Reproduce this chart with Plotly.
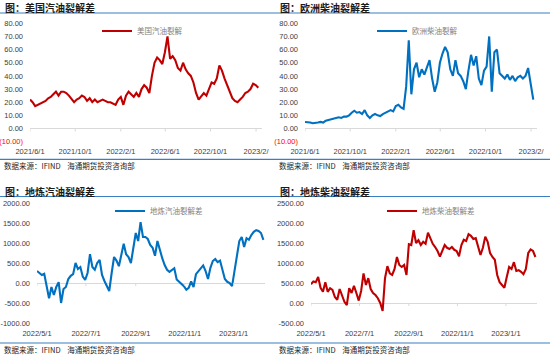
import pandas as pd
import plotly.graph_objects as go

# ---------------- data ----------------
us_gasoline = [22, 20, 17, 18, 19, 20, 21, 23, 24, 26,
               28, 25, 28, 28, 27, 25, 22, 20, 22, 23,
               25, 24, 21, 23, 20, 22, 20, 21, 22, 21,
               20, 20, 19, 18, 22, 24, 18, 25, 28, 26,
               24, 27, 24, 30, 33, 31, 27, 40, 50, 54,
               52, 49, 58, 70, 53, 55, 52, 46, 44, 50,
               45, 42, 40, 35, 27, 22, 25, 27, 25, 30,
               35, 34, 38, 48, 44, 38, 33, 27, 23, 21,
               20, 22, 24, 27, 28, 30, 34, 33, 31]
eu_diesel = [5, 5, 4.5, 4, 4, 4.5, 5, 4.5, 6, 6.5,
             7, 7.5, 8, 8.5, 8, 9, 9, 10, 12, 13.5,
             12, 12.5, 11, 14, 10, 8, 10, 11, 10, 9.5,
             11, 12, 13, 14, 13, 17, 18, 16, 15, 32,
             67, 26, 45, 50, 39, 45, 41, 47, 52, 38,
             28, 35, 50, 57, 62, 58, 45, 40, 52, 42,
             40, 36, 30, 44, 56, 48, 55, 38, 33, 44,
             47, 70, 28, 58, 60, 42, 40, 38, 41, 37,
             40, 36, 39, 40, 38, 40, 46, 35, 22]
local_gasoline = [300, 260, 200, 230, -90, -380, -100, -300, -100, 20,
                  -500, -150, -100, 100, 180, 220, 500, 350, 400, 160,
                  80, 250, 720, 400, 330, 500, 580, 200, 50, -100,
                  -200, 250, 650, 560, 420, 700, 980, 720, 650, 500,
                  900, 1250, 1050, 1520, 1150, 1150, 1100, 950, 880, 680,
                  1050, 800, 620, 450, 330, 280, 320, 370, 90, 30,
                  -20, -80, -170, -120, 40, -100, 220, 300, 350, 440,
                  300, 100, 380, 550, 600, 520, 560, 320, 100, 30,
                  0, -80, 300, 650, 1050, 1150, 900, 1120, 1080, 1200,
                  1280, 1320, 1300, 1250, 1080]
local_diesel = [470, 540, 520, 650, 380, 280, 520, 280, 370, 330,
                150, 80, 350, 200, 30, -50, 370, 250, 430, 250,
                60, 300, 740, 450, 620, 350, 250, 200, 120, 0,
                -200, 620, 920, 740, 700, 850, 1150, 950, 900, 950,
                700, 1470, 1450, 1820, 1500, 1570, 1450, 1530, 1480, 1760,
                1600, 1480, 1400, 1300, 1160, 1320, 1450, 1380, 1350, 1400,
                1330, 1300, 1170, 1450, 1580, 1550, 1720, 1680, 1600, 1620,
                1400, 1200, 1380, 1660, 1530, 1250, 1150, 1080, 700, 520,
                450, 380, 650, 900, 850, 1020, 800, 820, 780, 720,
                850, 1250, 1340, 1300, 1150]

dates_top = pd.date_range("2021-06-01", periods=len(us_gasoline), freq="7D")
dates_bot = pd.date_range("2022-05-01", periods=len(local_gasoline), freq="3D")

top_tickvals = ["2021-06-01", "2021-10-01", "2022-02-01", "2022-06-01", "2022-10-01", "2023-02-01"]
top_ticktext = ["2021/6/1", "2021/10/1", "2022/2/1", "2022/6/1", "2022/10/1", "2023/2/"]
bot_tickvals = ["2022-05-01", "2022-07-01", "2022-09-01", "2022-11-01", "2023-01-01"]
bot_ticktext = ["2022/5/1", "2022/7/1", "2022/9/1", "2022/11/1", "2023/1/1"]

top_yvals = [-10, 0, 10, 20, 30, 40, 50, 60, 70, 80]
top_ytext = ['<span style="color:#ff0000">(10.00)</span>', "0.00", "10.00", "20.00", "30.00",
             "40.00", "50.00", "60.00", "70.00", "80.00"]
p3_yvals = [-1000, -500, 0, 500, 1000, 1500, 2000]
p3_ytext = ["-1000.00", "-500.00", "0.00", "500.00", "1000.00", "1500.00", "2000.00"]
p4_yvals = [-500, 0, 500, 1000, 1500, 2000, 2500]
p4_ytext = ["-500.00", "0.00", "500.00", "1000.00", "1500.00", "2000.00", "2500.00"]

titles = ["图：美国汽油裂解差", "图：欧洲柴油裂解差", "图：地炼汽油裂解差", "图：地炼柴油裂解差"]
series_names = ["美国汽油裂解", "欧洲柴油裂解", "地炼汽油裂解差", "地炼柴油裂解差"]
source_text = "数据来源：IFIND    海通期货投资咨询部"

# ---------------- style ----------------
W, H = 550, 357
RED = "#c00000"
BLUE = "#0070c0"
RULE = "#3a7fc1"
ZERO = "#d9d9d9"
CJK = "Noto Sans CJK SC"
NUM = "Liberation Sans, Noto Sans CJK SC"
TXT = "#404040"
LW = 2.1


def px(xp):
    return xp / W


def py(yp):
    return 1 - yp / H


fig = go.Figure()
fig.add_trace(go.Scatter(x=dates_top, y=us_gasoline, mode="lines", name=series_names[0],
                         line=dict(color=RED, width=LW), xaxis="x", yaxis="y", legend="legend"))
fig.add_trace(go.Scatter(x=dates_top, y=eu_diesel, mode="lines", name=series_names[1],
                         line=dict(color=BLUE, width=LW), xaxis="x2", yaxis="y2", legend="legend2"))
fig.add_trace(go.Scatter(x=dates_bot, y=local_gasoline, mode="lines", name=series_names[2],
                         line=dict(color=BLUE, width=LW), xaxis="x3", yaxis="y3", legend="legend3"))
fig.add_trace(go.Scatter(x=dates_bot, y=local_diesel, mode="lines", name=series_names[3],
                         line=dict(color=RED, width=LW), xaxis="x4", yaxis="y4", legend="legend4"))

tickfont = dict(family=NUM, size=7.5, color=TXT)


def xax(domain, rng, tv, tt, anchor):
    return dict(domain=domain, range=rng, tickvals=tv, ticktext=tt, showgrid=False,
                zeroline=False, showline=False, ticks="", tickfont=tickfont, automargin=False,
                ticklabelstandoff=4, anchor=anchor, fixedrange=True)


def yax(domain, rng, tv, tt, anchor):
    return dict(domain=domain, range=rng, tickvals=tv, ticktext=tt, showgrid=False,
                zeroline=True, zerolinecolor=ZERO, zerolinewidth=1, showline=False, automargin=False,
                ticks="", tickfont=tickfont, ticklabelstandoff=6, anchor=anchor, fixedrange=True)


top_ydom = [py(141.65), py(23.3)]
bot_ydom = [py(323), py(203)]

legend_common = dict(xanchor="left", yanchor="middle", bgcolor="rgba(0,0,0,0)",
                     font=dict(family=CJK, size=7.5, color="#7f7f7f"), itemwidth=30)

fig.update_layout(
    template="none",
    width=W, height=H, margin=dict(l=0, r=0, t=0, b=0, autoexpand=False),
    paper_bgcolor="white", plot_bgcolor="white", showlegend=True,
    xaxis=xax([px(30), px(262)], ["2021-06-01", "2023-02-17"], top_tickvals, top_ticktext, "y"),
    yaxis=yax(top_ydom, [-10, 80], top_yvals, top_ytext, "x"),
    xaxis2=xax([px(305), px(537)], ["2021-06-01", "2023-02-17"], top_tickvals, top_ticktext, "y2"),
    yaxis2=yax(top_ydom, [-10, 80], top_yvals, top_ytext, "x2"),
    xaxis3=xax([px(37), px(265)], ["2022-05-01", "2023-02-09"], bot_tickvals, bot_ticktext, "y3"),
    yaxis3=yax(bot_ydom, [-1000, 2000], p3_yvals, p3_ytext, "x3"),
    xaxis4=xax([px(311), px(537)], ["2022-05-01", "2023-02-09"], bot_tickvals, bot_ticktext, "y4"),
    yaxis4=yax(bot_ydom, [-500, 2500], p4_yvals, p4_ytext, "x4"),
    legend=dict(x=px(97), y=py(31), **legend_common),
    legend2=dict(x=px(372), y=py(31), **legend_common),
    legend3=dict(x=px(110), y=py(211), **legend_common),
    legend4=dict(x=px(382), y=py(211), **legend_common),
)

# titles and source notes
annots = []
for title, (x0, y0) in zip(titles, [(3, 7), (278, 7), (3, 191.5), (278, 191.5)]):
    annots.append(dict(text=title, xref="paper", yref="paper", x=px(x0), y=py(y0),
                       xanchor="left", yanchor="middle", showarrow=False,
                       font=dict(family=CJK, size=10, color="#1a1a1a", weight="bold")))
for (x0, y0) in [(3, 165.5), (278, 165.5), (3, 349.5), (278, 349.5)]:
    annots.append(dict(text=source_text, xref="paper", yref="paper", x=px(x0), y=py(y0),
                       xanchor="left", yanchor="middle", showarrow=False, borderpad=0,
                       font=dict(family=CJK, size=7.5, color="#262626")))
fig.update_layout(annotations=annots)

shapes = []
for yl in [13, 159.3, 196.5, 343]:
    shapes.append(dict(type="line", xref="paper", yref="paper", x0=0, x1=1, y0=py(yl), y1=py(yl),
                       line=dict(color=RULE, width=1.2)))
# small tick marks on the zero lines
for xr, yr, tvs in [("x", "y", top_tickvals), ("x2", "y2", top_tickvals),
                    ("x3", "y3", bot_tickvals), ("x4", "y4", bot_tickvals)]:
    for tv in tvs:
        shapes.append(dict(type="line", xref=xr, yref=yr, x0=tv, x1=tv,
                           ysizemode="pixel", yanchor=0, y0=0, y1=-3,
                           line=dict(color=ZERO, width=1)))
fig.update_layout(shapes=shapes)

fig.write_html("out.html", config={"displayModeBar": False, "staticPlot": True},
               post_script="document.body.style.margin='0';document.body.style.padding='0';")
